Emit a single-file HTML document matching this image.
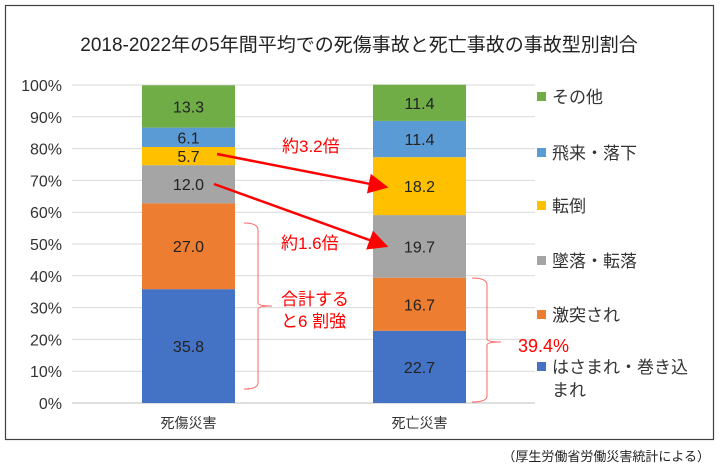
<!DOCTYPE html>
<html><head><meta charset="utf-8"><style>
body{margin:0;background:#fff;width:719px;height:468px;overflow:hidden;font-family:"Liberation Sans","Noto Sans CJK JP",sans-serif}
svg text{font-family:"Liberation Sans","Noto Sans CJK JP",sans-serif}
</style></head><body>
<svg width="719" height="468">
<rect x="5.5" y="5.5" width="708" height="434" fill="#fff" stroke="#404040" stroke-width="1.2"/>
<text x="359" y="51" font-size="19" text-anchor="middle" fill="#222">2018-2022年の5年間平均での死傷事故と死亡事故の事故型別割合</text>
<g id="grid"></g><g id="bars"></g><g id="legend"></g>
<g>
<defs><marker id="ah" markerWidth="8" markerHeight="8" refX="7" refY="4" orient="auto"><path d="M0,0 L8,4 L0,8 z" fill="#f00"/></marker></defs>
<line x1="217" y1="154" x2="386" y2="187" stroke="#f00" stroke-width="2.5" marker-end="url(#ah)"/>
<line x1="214" y1="184" x2="386" y2="246" stroke="#f00" stroke-width="2.5" marker-end="url(#ah)"/>
<text x="282" y="152" font-size="17" fill="#f00">約3.2倍</text>
<text x="281" y="249" font-size="17" fill="#f00">約1.6倍</text>
<text x="281" y="305" font-size="17" fill="#f00">合計する</text>
<text x="281" y="327" font-size="17" fill="#f00">と6 割強</text>
<path d="M244,223 Q258,223 258,230 L258,303 Q258,306 272,306 Q258,306 258,309 L258,383 Q258,389 244,389" fill="none" stroke="#f66" stroke-width="1"/>
<path d="M472,278 Q487,278 487,285 L487,339 Q487,342 501,342 Q487,342 487,345 L487,396 Q487,402 472,402" fill="none" stroke="#f66" stroke-width="1"/>
<text x="518" y="352" font-size="18" fill="#f00">39.4%</text>
</g>
<text x="710" y="461" font-size="13" text-anchor="end" fill="#222">（厚生労働省労働災害統計による）</text>
</svg>
<script>
const categories=["死傷災害","死亡災害"];
const seriesNames=["はさまれ・巻き込まれ","激突され","墜落・転落","転倒","飛来・落下","その他"];
const colors=["#4472c4","#ed7d31","#a5a5a5","#ffc000","#5b9bd5","#70ad47"];
const injuryValues=[35.8,27.0,12.0,5.7,6.1,13.3];
const deathValues=[22.7,16.7,19.7,18.2,11.4,11.4];
const yTicks=[0,10,20,30,40,50,60,70,80,90,100];
const NS="http://www.w3.org/2000/svg";
const y0=403,yTop=85;
const yScale=v=>y0-(v/100)*(y0-yTop);
const barX=[142,373],barW=93;
function mk(t,a,p){const e=document.createElementNS(NS,t);for(const k in a)e.setAttribute(k,a[k]);p.appendChild(e);return e;}
const grid=document.getElementById('grid');
yTicks.forEach(t=>{
 const l=mk('line',{x1:72,x2:535,y1:yScale(t),y2:yScale(t),stroke:t===0?'#bfbfbf':'#d9d9d9','stroke-width':1},grid);
 
 
 const tx=mk('text',{x:62,y:yScale(t)+6,'font-size':16,'text-anchor':'end',fill:'#333'},grid);
 tx.textContent=t+'%';
 
 
});
const bars=document.getElementById('bars');
[injuryValues,deathValues].forEach((vals,ci)=>{
 let cum=0;
 vals.forEach((v,si)=>{
  const yt=yScale(cum+v),yb=yScale(cum);
  const r=mk('rect',{x:barX[ci],y:yt,width:barW,height:yb-yt,fill:colors[si]},bars);
  
  
  const tx=mk('text',{x:barX[ci]+barW/2,y:(yt+yb)/2+6,'font-size':16,'text-anchor':'middle',fill:'#222'},bars);
  tx.textContent=v.toFixed(1);
  
  
  cum+=v;
 });
 const c=mk('text',{x:barX[ci]+barW/2,y:428,'font-size':14,'text-anchor':'middle',fill:'#333'},bars);
 c.textContent=categories[ci];
 
 
});
const legend=document.getElementById('legend');
const legY=[367,315,261,206,153,97];
seriesNames.forEach((n,i)=>{
 const r=mk('rect',{x:537,y:legY[i]-5,width:9,height:9,fill:colors[i]},legend);
 
 
 const t=mk('text',{x:552,y:legY[i]+6,'font-size':17,fill:'#333'},legend);
 
 
 if(i===0){t.textContent='はさまれ・巻き込';const t2=mk('text',{x:552,y:legY[i]+29,'font-size':17,fill:'#333'},legend);t2.textContent='まれ';
  
  }
 else t.textContent=n;
});
</script>
</body></html>
